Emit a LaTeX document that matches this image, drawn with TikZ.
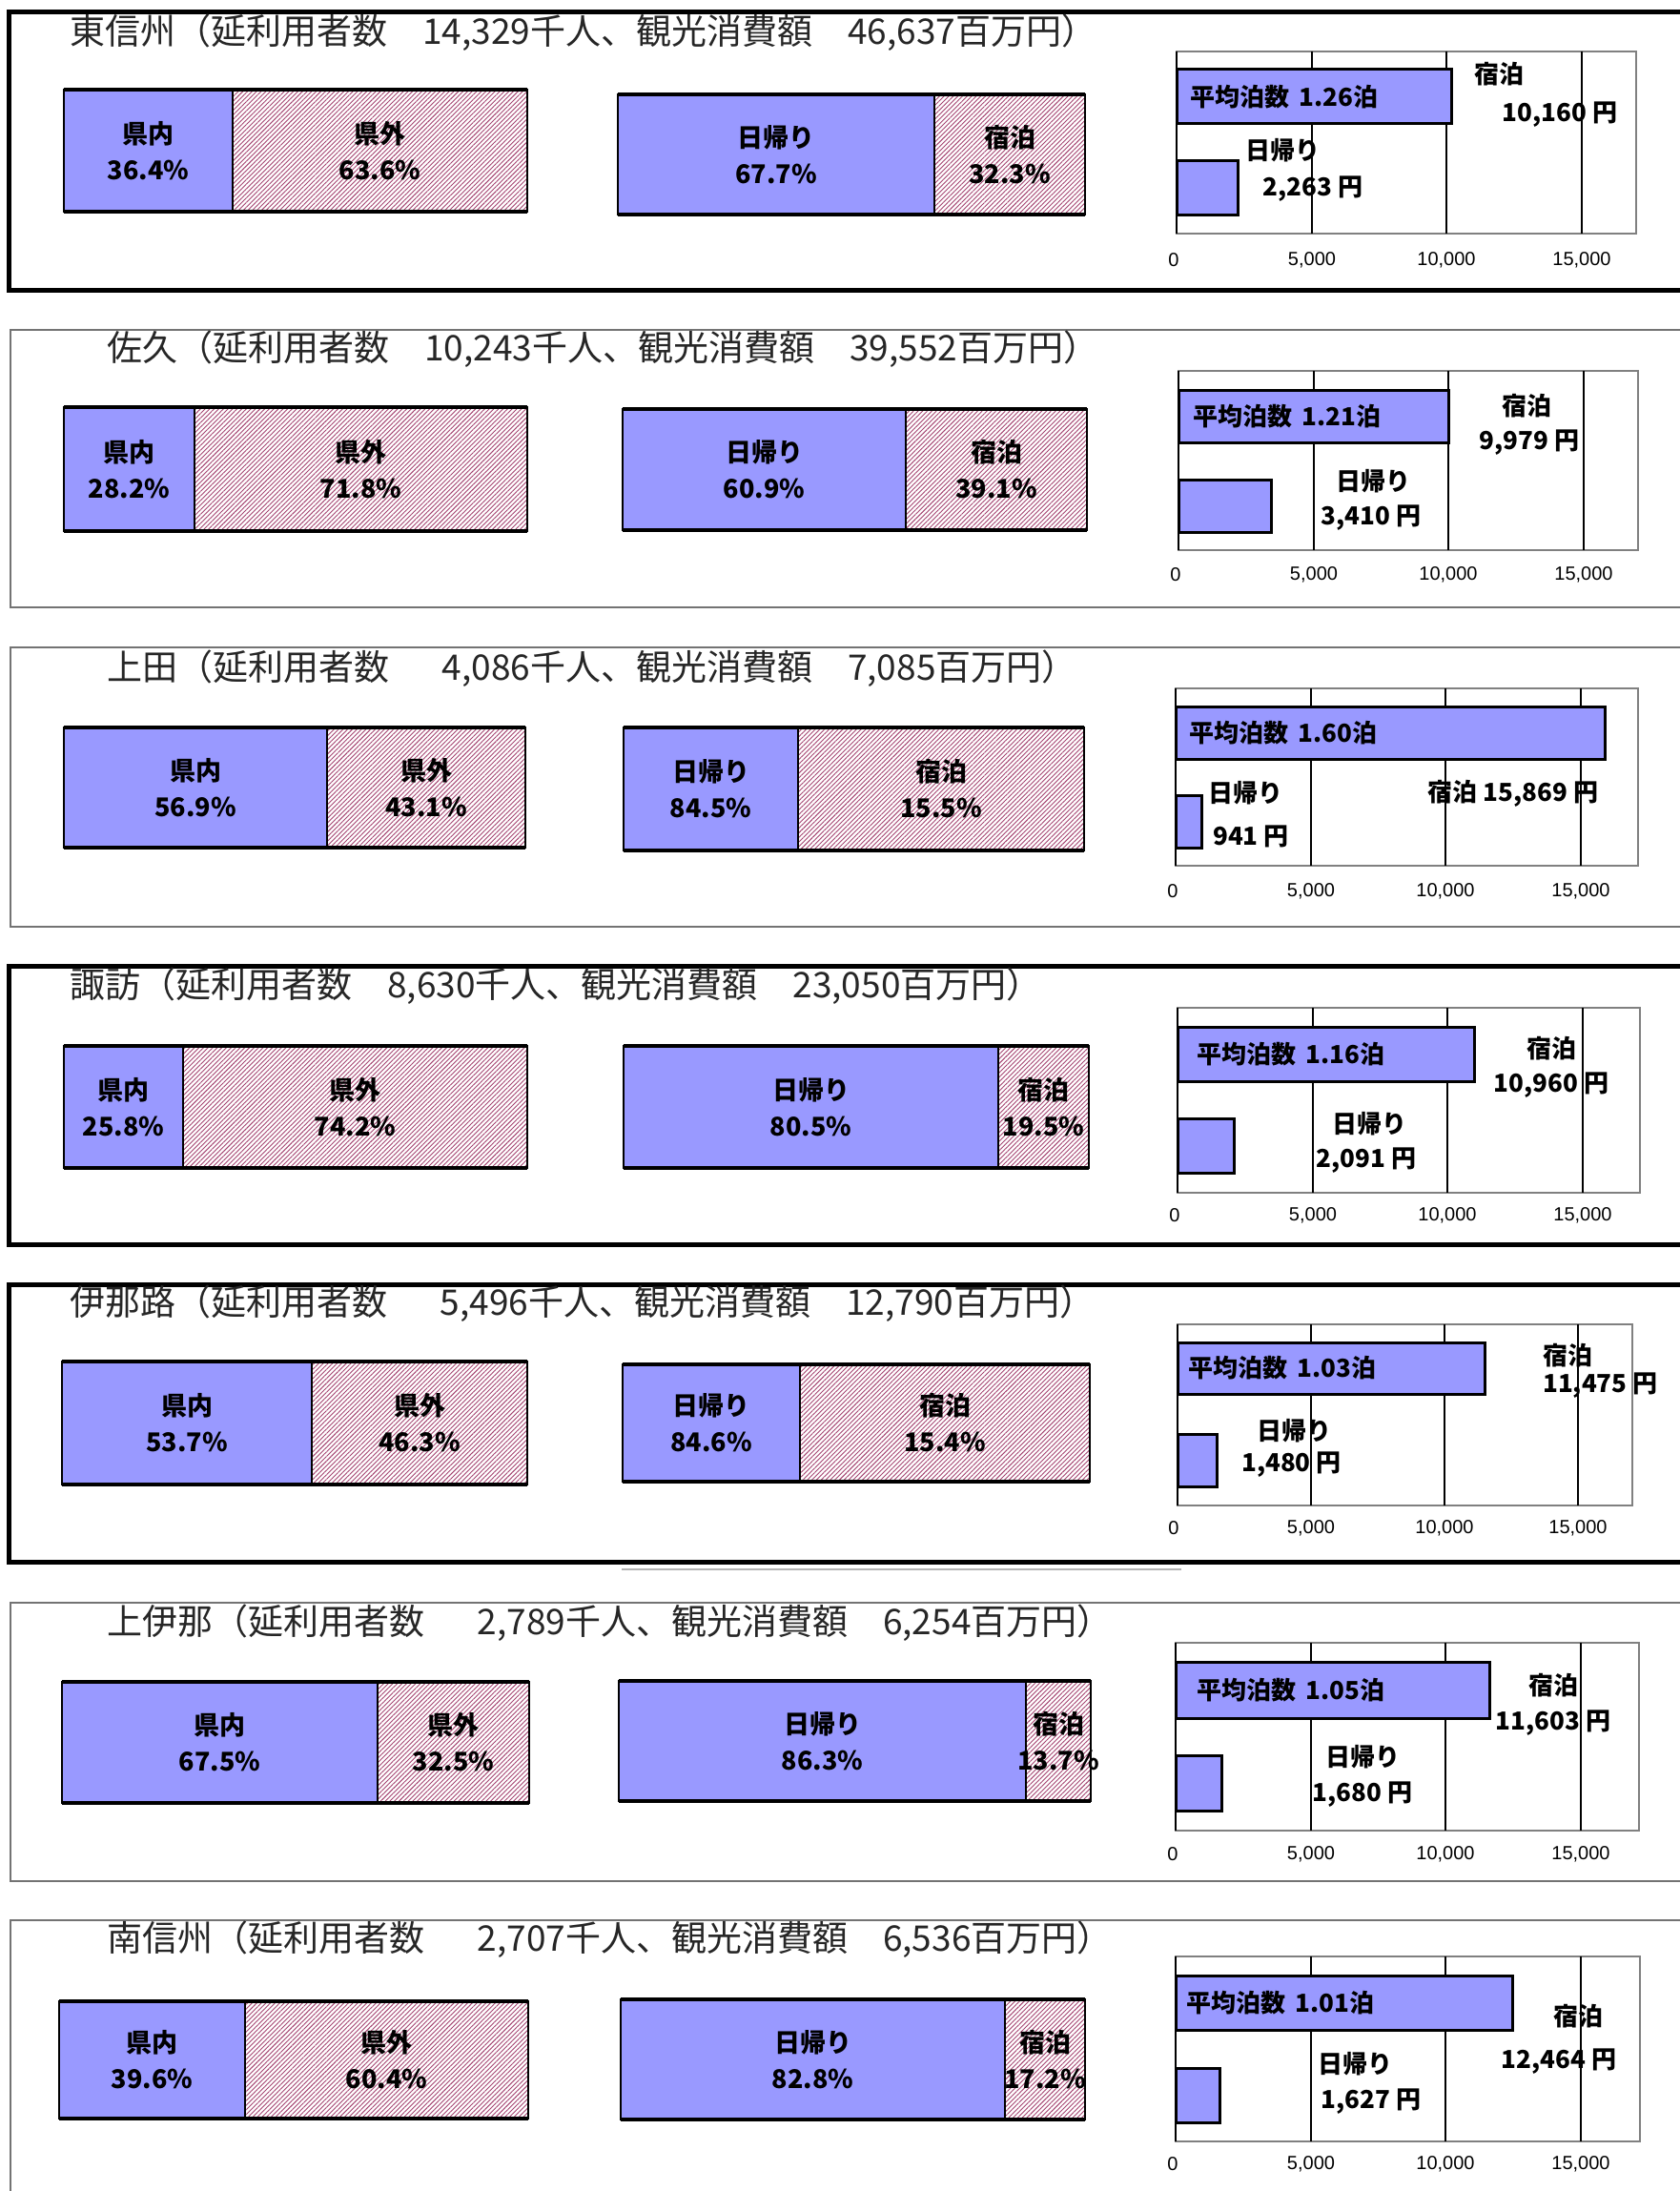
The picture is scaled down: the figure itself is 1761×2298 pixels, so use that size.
\documentclass[tikz,border=0pt]{standalone}
\usepackage{fontspec}
\usepackage{tikz}
\usetikzlibrary{
        positioning,
        patterns.meta
    }
\newfontfamily\jp{Noto Sans CJK JP}
\newfontfamily\arial{Liberation Sans}
\definecolor{periwinkle}{HTML}{9999FF}
\definecolor{hatch}{HTML}{A3426F}

\begin{document}
\begin{tikzpicture}
[x=1pt, y=-1pt,
bigframe/.style={line width=5pt},
thinframe/.style={draw=black!55, line width=1.5pt},
headline/.style={anchor=west, inner sep=0pt, text=black!85, font=\jp\fontsize{37}{42}\selectfont},
seg/.style={draw=black, line width=2pt, anchor=north west, inner sep=0pt, outer sep=0pt},
inpref/.style={seg, fill=periwinkle},
outpref/.style={seg, pattern={Lines[angle=45,distance=3.4pt,line width=0.9pt]}, pattern color=hatch},
barlabel/.style={align=center, inner sep=0pt, font=\jp\bfseries\fontsize{27}{38}\selectfont},
baredge/.style={line width=3.5pt},
plotarea/.style={draw=black!50, line width=2pt},
gridline/.style={line width=1.2pt},
spend/.style={draw=black, fill=periwinkle, line width=3pt, anchor=north west, inner sep=0pt, outer sep=0pt},
lbl/.style={inner sep=0pt, font=\jp\bfseries\fontsize{26}{30}\selectfont},
axislbl/.style={inner sep=0pt, font=\arial\fontsize{20}{24}\selectfont}]

    \useasboundingbox (0,0) rectangle (1761,2298);

    % 東信州
    \draw[bigframe] (1775,13) -| (9,305) -- (1775,305);
    \node (title1) [headline] at (73,34) {東信州（延利用者数\quad 14,329千人、観光消費額\quad 46,637百万円）};
    \node (kennai1) [inpref, minimum width=177pt, minimum height=128pt, label={[barlabel]center:{県内\\36.4\%}}] at (67,94) {};
    \node (kengai1) [outpref, right=0pt of kennai1, minimum width=309pt, minimum height=128pt, label={[barlabel]center:{県外\\63.6\%}}] {};
    \draw[baredge] (kennai1.north west) -- (kengai1.north east) (kennai1.south west) -- (kengai1.south east);
    \node (higaeri1) [inpref, minimum width=332pt, minimum height=126pt, label={[barlabel]center:{日帰り\\67.7\%}}] at (648,99) {};
    \node (shuku1) [outpref, right=0pt of higaeri1, minimum width=158pt, minimum height=126pt, label={[barlabel]center:{宿泊\\32.3\%}}] {};
    \draw[baredge] (higaeri1.north west) -- (shuku1.north east) (higaeri1.south west) -- (shuku1.south east);
    \draw[plotarea] (1234,54) rectangle (1716,245);
    \draw[gridline] (1234,54) -- (1234,245) (1376,54) -- (1376,245) (1517,54) -- (1517,245) (1659,54) -- (1659,245);
    \node (stay1) [spend, minimum width=288pt, minimum height=57pt] at (1234,73) {};
    \node (day1) [spend, minimum width=64pt, minimum height=57pt] at (1234,169) {};
    \node (avg1) [lbl, right=14pt of stay1.west] {平均泊数\hspace{.4em}1.26泊};
    \node (stayt1) [lbl] at (1572,78) {宿泊};
    \node (stayy1) [lbl] at (1636,120) {10,160 円};
    \node (dayt1) [lbl] at (1345,158) {日帰り};
    \node (dayy1) [lbl] at (1377,198) {2,263 円};
    \node (ax01) [axislbl] at (1231,273) {0};
    \node (ax51) [axislbl] at (1376,273) {5,000};
    \node (ax101) [axislbl] at (1517,273) {10,000};
    \node (ax151) [axislbl] at (1659,273) {15,000};

    % 佐久
    \draw[thinframe] (1775,346) -| (11,637) -- (1775,637);
    \node (title2) [headline] at (112,366) {佐久（延利用者数\quad 10,243千人、観光消費額\quad 39,552百万円）};
    \node (kennai2) [inpref, minimum width=137pt, minimum height=130pt, label={[barlabel]center:{県内\\28.2\%}}] at (67,427) {};
    \node (kengai2) [outpref, right=0pt of kennai2, minimum width=349pt, minimum height=130pt, label={[barlabel]center:{県外\\71.8\%}}] {};
    \draw[baredge] (kennai2.north west) -- (kengai2.north east) (kennai2.south west) -- (kengai2.south east);
    \node (higaeri2) [inpref, minimum width=297pt, minimum height=127pt, label={[barlabel]center:{日帰り\\60.9\%}}] at (653,429) {};
    \node (shuku2) [outpref, right=0pt of higaeri2, minimum width=190pt, minimum height=127pt, label={[barlabel]center:{宿泊\\39.1\%}}] {};
    \draw[baredge] (higaeri2.north west) -- (shuku2.north east) (higaeri2.south west) -- (shuku2.south east);
    \draw[plotarea] (1236,389) rectangle (1718,577);
    \draw[gridline] (1236,389) -- (1236,577) (1378,389) -- (1378,577) (1519,389) -- (1519,577) (1661,389) -- (1661,577);
    \node (stay2) [spend, minimum width=283pt, minimum height=55pt] at (1236,409) {};
    \node (day2) [spend, minimum width=97pt, minimum height=55pt] at (1236,503) {};
    \node (avg2) [lbl, right=15pt of stay2.west] {平均泊数\hspace{.4em}1.21泊};
    \node (stayt2) [lbl] at (1601,426) {宿泊};
    \node (stayy2) [lbl] at (1604,464) {9,979 円};
    \node (dayt2) [lbl] at (1440,505) {日帰り};
    \node (dayy2) [lbl] at (1438,543) {3,410 円};
    \node (ax02) [axislbl] at (1233,603) {0};
    \node (ax52) [axislbl] at (1378,603) {5,000};
    \node (ax102) [axislbl] at (1519,603) {10,000};
    \node (ax152) [axislbl] at (1661,603) {15,000};

    % 上田
    \draw[thinframe] (1775,679) -| (11,972) -- (1775,972);
    \node (title3) [headline] at (112,701) {上田（延利用者数\hspace{1.5em}4,086千人、観光消費額\quad 7,085百万円）};
    \node (kennai3) [inpref, minimum width=276pt, minimum height=126pt, label={[barlabel]center:{県内\\56.9\%}}] at (67,763) {};
    \node (kengai3) [outpref, right=0pt of kennai3, minimum width=208pt, minimum height=126pt, label={[barlabel]center:{県外\\43.1\%}}] {};
    \draw[baredge] (kennai3.north west) -- (kengai3.north east) (kennai3.south west) -- (kengai3.south east);
    \node (higaeri3) [inpref, minimum width=183pt, minimum height=129pt, label={[barlabel]center:{日帰り\\84.5\%}}] at (654,763) {};
    \node (shuku3) [outpref, right=0pt of higaeri3, minimum width=300pt, minimum height=129pt, label={[barlabel]center:{宿泊\\15.5\%}}] {};
    \draw[baredge] (higaeri3.north west) -- (shuku3.north east) (higaeri3.south west) -- (shuku3.south east);
    \draw[plotarea] (1233,722) rectangle (1718,908);
    \draw[gridline] (1233,722) -- (1233,908) (1375,722) -- (1375,908) (1516,722) -- (1516,908) (1658,722) -- (1658,908);
    \node (stay3) [spend, minimum width=450pt, minimum height=55pt] at (1233,741) {};
    \node (day3) [spend, minimum width=27pt, minimum height=55pt] at (1233,834) {};
    \node (avg3) [lbl, right=14pt of stay3.west] {平均泊数\hspace{.4em}1.60泊};
    \node (dayt3) [lbl] at (1306,832) {日帰り};
    \node (dayy3) [lbl] at (1312,877) {941 円};
    \node (stayt3) [lbl] at (1587,832) {宿泊 15,869 円};
    \node (ax03) [axislbl] at (1230,935) {0};
    \node (ax53) [axislbl] at (1375,935) {5,000};
    \node (ax103) [axislbl] at (1516,935) {10,000};
    \node (ax153) [axislbl] at (1658,935) {15,000};

    % 諏訪
    \draw[bigframe] (1775,1013) -| (9,1305) -- (1775,1305);
    \node (title4) [headline] at (73,1034) {諏訪（延利用者数\quad 8,630千人、観光消費額\quad 23,050百万円）};
    \node (kennai4) [inpref, minimum width=125pt, minimum height=128pt, label={[barlabel]center:{県内\\25.8\%}}] at (67,1097) {};
    \node (kengai4) [outpref, right=0pt of kennai4, minimum width=361pt, minimum height=128pt, label={[barlabel]center:{県外\\74.2\%}}] {};
    \draw[baredge] (kennai4.north west) -- (kengai4.north east) (kennai4.south west) -- (kengai4.south east);
    \node (higaeri4) [inpref, minimum width=393pt, minimum height=128pt, label={[barlabel]center:{日帰り\\80.5\%}}] at (654,1097) {};
    \node (shuku4) [outpref, right=0pt of higaeri4, minimum width=95pt, minimum height=128pt, label={[barlabel]center:{宿泊\\19.5\%}}] {};
    \draw[baredge] (higaeri4.north west) -- (shuku4.north east) (higaeri4.south west) -- (shuku4.south east);
    \draw[plotarea] (1235,1057) rectangle (1720,1251);
    \draw[gridline] (1235,1057) -- (1235,1251) (1377,1057) -- (1377,1251) (1518,1057) -- (1518,1251) (1660,1057) -- (1660,1251);
    \node (stay4) [spend, minimum width=311pt, minimum height=57pt] at (1235,1077) {};
    \node (day4) [spend, minimum width=59pt, minimum height=57pt] at (1235,1173) {};
    \node (avg4) [lbl, right=20pt of stay4.west] {平均泊数\hspace{.4em}1.16泊};
    \node (stayt4) [lbl] at (1627,1100) {宿泊};
    \node (stayy4) [lbl] at (1627,1138) {10,960 円};
    \node (dayt4) [lbl] at (1436,1179) {日帰り};
    \node (dayy4) [lbl] at (1433,1217) {2,091 円};
    \node (ax04) [axislbl] at (1232,1275) {0};
    \node (ax54) [axislbl] at (1377,1275) {5,000};
    \node (ax104) [axislbl] at (1518,1275) {10,000};
    \node (ax154) [axislbl] at (1660,1275) {15,000};

    % 伊那路
    \draw[bigframe] (1775,1347) -| (9,1638) -- (1775,1638);
    \draw[black!30, line width=2.5pt] (652,1646) -- (1239,1646);
    \node (title5) [headline] at (73,1367) {伊那路（延利用者数\hspace{1.5em}5,496千人、観光消費額\quad 12,790百万円）};
    \node (kennai5) [inpref, minimum width=262pt, minimum height=129pt, label={[barlabel]center:{県内\\53.7\%}}] at (65,1428) {};
    \node (kengai5) [outpref, right=0pt of kennai5, minimum width=226pt, minimum height=129pt, label={[barlabel]center:{県外\\46.3\%}}] {};
    \draw[baredge] (kennai5.north west) -- (kengai5.north east) (kennai5.south west) -- (kengai5.south east);
    \node (higaeri5) [inpref, minimum width=186pt, minimum height=123pt, label={[barlabel]center:{日帰り\\84.6\%}}] at (653,1431) {};
    \node (shuku5) [outpref, right=0pt of higaeri5, minimum width=304pt, minimum height=123pt, label={[barlabel]center:{宿泊\\15.4\%}}] {};
    \draw[baredge] (higaeri5.north west) -- (shuku5.north east) (higaeri5.south west) -- (shuku5.south east);
    \draw[plotarea] (1235,1389) rectangle (1712,1579);
    \draw[gridline] (1235,1389) -- (1235,1579) (1375,1389) -- (1375,1579) (1515,1389) -- (1515,1579) (1655,1389) -- (1655,1579);
    \node (stay5) [spend, minimum width=322pt, minimum height=54pt] at (1235,1408) {};
    \node (day5) [spend, minimum width=41pt, minimum height=55pt] at (1235,1504) {};
    \node (avg5) [lbl, right=11pt of stay5.west] {平均泊数\hspace{.4em}1.03泊};
    \node (stayt5) [lbl, anchor=west] at (1618,1422) {宿泊};
    \node (stayy5) [lbl, anchor=west] at (1618,1453) {11,475 円};
    \node (dayt5) [lbl, anchor=west] at (1318,1501) {日帰り};
    \node (dayy5) [lbl, anchor=west] at (1302,1536) {1,480 円};
    \node (ax05) [axislbl] at (1231,1603) {0};
    \node (ax55) [axislbl] at (1375,1603) {5,000};
    \node (ax105) [axislbl] at (1515,1603) {10,000};
    \node (ax155) [axislbl] at (1655,1603) {15,000};

    % 上伊那
    \draw[thinframe] (1775,1681) -| (11,1973) -- (1775,1973);
    \node (title6) [headline] at (112,1702) {上伊那（延利用者数\hspace{1.5em}2,789千人、観光消費額\quad 6,254百万円）};
    \node (kennai6) [inpref, minimum width=331pt, minimum height=127pt, label={[barlabel]center:{県内\\67.5\%}}] at (65,1764) {};
    \node (kengai6) [outpref, right=0pt of kennai6, minimum width=159pt, minimum height=127pt, label={[barlabel]center:{県外\\32.5\%}}] {};
    \draw[baredge] (kennai6.north west) -- (kengai6.north east) (kennai6.south west) -- (kengai6.south east);
    \node (higaeri6) [inpref, minimum width=427pt, minimum height=126pt, label={[barlabel]center:{日帰り\\86.3\%}}] at (649,1763) {};
    \node (shuku6) [outpref, right=0pt of higaeri6, minimum width=68pt, minimum height=126pt, label={[barlabel]center:{宿泊\\13.7\%}}] {};
    \draw[baredge] (higaeri6.north west) -- (shuku6.north east) (higaeri6.south west) -- (shuku6.south east);
    \draw[plotarea] (1233,1723) rectangle (1719,1920);
    \draw[gridline] (1233,1723) -- (1233,1920) (1375,1723) -- (1375,1920) (1516,1723) -- (1516,1920) (1658,1723) -- (1658,1920);
    \node (stay6) [spend, minimum width=329pt, minimum height=59pt] at (1233,1743) {};
    \node (day6) [spend, minimum width=48pt, minimum height=58pt] at (1233,1841) {};
    \node (avg6) [lbl, right=22pt of stay6.west] {平均泊数\hspace{.4em}1.05泊};
    \node (stayt6) [lbl] at (1629,1768) {宿泊};
    \node (stayy6) [lbl] at (1629,1807) {11,603 円};
    \node (dayt6) [lbl] at (1429,1843) {日帰り};
    \node (dayy6) [lbl] at (1429,1882) {1,680 円};
    \node (ax06) [axislbl] at (1230,1945) {0};
    \node (ax56) [axislbl] at (1375,1945) {5,000};
    \node (ax106) [axislbl] at (1516,1945) {10,000};
    \node (ax156) [axislbl] at (1658,1945) {15,000};

    % 南信州
    \draw[thinframe] (1775,2014) -| (11,2310);
    \node (title7) [headline] at (112,2034) {南信州（延利用者数\hspace{1.5em}2,707千人、観光消費額\quad 6,536百万円）};
    \node (kennai7) [inpref, minimum width=195pt, minimum height=123pt, label={[barlabel]center:{県内\\39.6\%}}] at (62,2099) {};
    \node (kengai7) [outpref, right=0pt of kennai7, minimum width=297pt, minimum height=123pt, label={[barlabel]center:{県外\\60.4\%}}] {};
    \draw[baredge] (kennai7.north west) -- (kengai7.north east) (kennai7.south west) -- (kengai7.south east);
    \node (higaeri7) [inpref, minimum width=403pt, minimum height=126pt, label={[barlabel]center:{日帰り\\82.8\%}}] at (651,2097) {};
    \node (shuku7) [outpref, right=0pt of higaeri7, minimum width=84pt, minimum height=126pt, label={[barlabel]center:{宿泊\\17.2\%}}] {};
    \draw[baredge] (higaeri7.north west) -- (shuku7.north east) (higaeri7.south west) -- (shuku7.south east);
    \draw[plotarea] (1233,2052) rectangle (1720,2246);
    \draw[gridline] (1233,2052) -- (1233,2246) (1375,2052) -- (1375,2246) (1516,2052) -- (1516,2246) (1658,2052) -- (1658,2246);
    \node (stay7) [spend, minimum width=353pt, minimum height=57pt] at (1233,2072) {};
    \node (day7) [spend, minimum width=46pt, minimum height=57pt] at (1233,2169) {};
    \node (avg7) [lbl, right=11pt of stay7.west] {平均泊数\hspace{.4em}1.01泊};
    \node (stayt7) [lbl] at (1655,2115) {宿泊};
    \node (stayy7) [lbl] at (1635,2162) {12,464 円};
    \node (dayt7) [lbl] at (1421,2165) {日帰り};
    \node (dayy7) [lbl] at (1438,2204) {1,627 円};
    \node (ax07) [axislbl] at (1230,2270) {0};
    \node (ax57) [axislbl] at (1375,2270) {5,000};
    \node (ax107) [axislbl] at (1516,2270) {10,000};
    \node (ax157) [axislbl] at (1658,2270) {15,000};
\end{tikzpicture}
\end{document}
